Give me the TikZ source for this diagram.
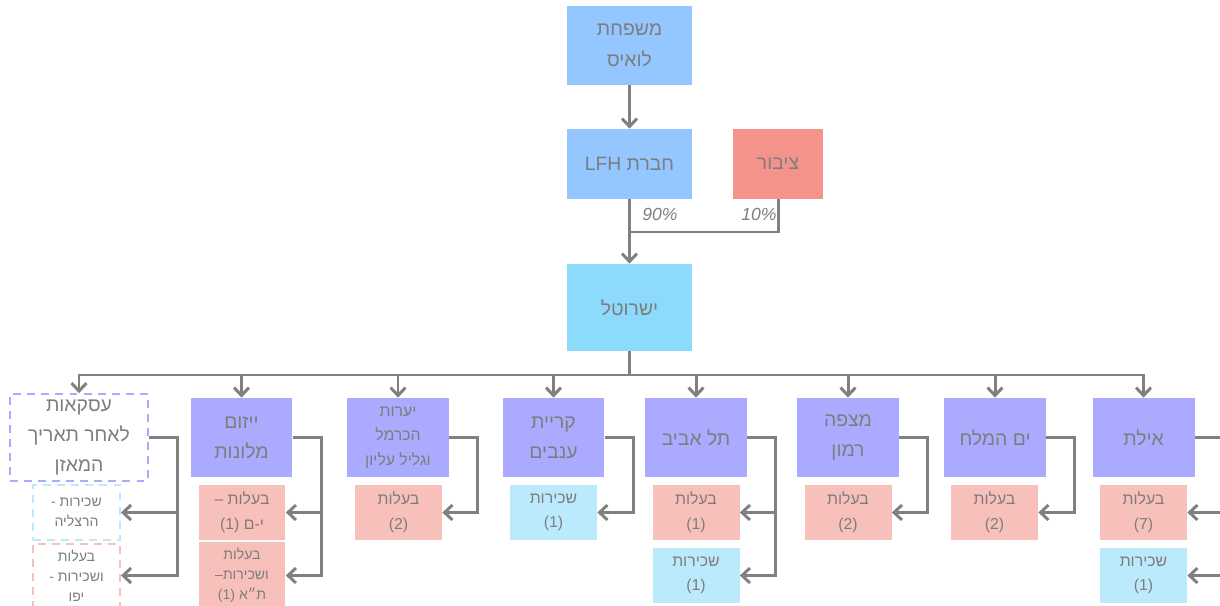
\documentclass[tikz,border=0pt]{standalone}
\usepackage{fontspec}
\setmainfont{Liberation Sans}
\newfontfamily\hebfont[Script=Hebrew]{Liberation Sans}
\usepackage{tikz}
\usepackage{xcolor}
\usetikzlibrary{arrows.meta}
\TeXXeTstate=1
\newcommand{\rtl}[1]{{\hebfont\beginR #1\endR}}
\newcommand{\heb}[1]{{\hebfont #1}}
\definecolor{topblue}{RGB}{148,198,255}
\definecolor{isrblue}{RGB}{140,219,252}
\definecolor{pubred}{RGB}{244,147,138}
\definecolor{hotelc}{RGB}{170,170,255}
\definecolor{ownc}{RGB}{248,192,186}
\definecolor{rentc}{RGB}{188,234,253}
\definecolor{txtc}{RGB}{125,125,125}
\definecolor{linec}{RGB}{128,128,128}

\begin{document}
\begin{tikzpicture}%
  [x=0.02cm,y=-0.02cm,
   link/.style={draw=linec,line width=1.7pt},
   arrow/.style={link,-{Straight Barb[length=4.5pt,width=8.5pt]}}]
  \tikzstyle{top node}=[rectangle,fill=topblue,text=txtc,minimum width=2.5cm,align=center,font=\fontsize{11}{18}\selectfont]
  \tikzstyle{hotel node}=[rectangle,fill=hotelc,text=txtc,minimum width=2.04cm,minimum height=1.58cm,align=center,font=\fontsize{11}{17}\selectfont]
  \tikzstyle{own node}=[rectangle,fill=ownc,text=txtc,minimum width=1.74cm,minimum height=1.1cm,align=center,font=\fontsize{9}{14}\selectfont]
  \tikzstyle{rent node}=[own node,fill=rentc]
  \tikzstyle{small}=[font=\fontsize{8}{11.5}\selectfont]
  \tikzstyle{dash box}=[fill=white,dashed,dash pattern=on 4.5pt off 3.5pt,line width=1.1pt]
  \tikzstyle{pct node}=[text=txtc,font=\itshape\fontsize{10}{12}\selectfont]
  \useasboundingbox (0,0) rectangle (1220,605);
  % owners
  \node(fam)[top node,minimum height=1.58cm] at (629.5,45.5) {\heb{משפחת}\\\heb{לואיס}};
  \node(lfh)[top node,minimum height=1.4cm] at (629.5,164) {\rtl{חברת LFH}};
  \node(pub)[top node,fill=pubred,minimum width=1.8cm,minimum height=1.4cm] at (778,164) {\heb{ציבור}};
  \node(isr)[top node,fill=isrblue,minimum height=1.74cm] at (629.5,307.5) {\heb{ישרוטל}};
  \node(p90)[pct node] at (660,214) {90\%};
  \node(p10)[pct node] at (759,214) {10\%};
  \coordinate(merge) at (629.5,232);
  \coordinate(bus) at (629.5,375);
  \draw[arrow] (fam) -- (lfh);
  \draw[arrow] (lfh) -- (isr);
  \draw[link] (pub) |- (merge);
  \draw[link] (isr) -- (bus);
  % hotels
  \node(deal)[hotel node,dash box,draw=hotelc,minimum width=2.76cm] at (79,437.5)
    {\heb{עסקאות}\\\rtl{לאחר תאריך}\\\heb{המאזן}};
  \node(yazam)[hotel node] at (241.5,437.5) {\heb{ייזום}\\\heb{מלונות}};
  \node(yaarot)[hotel node,font=\fontsize{9}{14}\selectfont] at (398,437.5)
    {\heb{יערות}\\\heb{הכרמל}\\\rtl{וגליל עליון}};
  \node(kiryat)[hotel node] at (553.5,437.5) {\heb{קריית}\\\heb{ענבים}};
  \node(telaviv)[hotel node] at (696,437.5) {\rtl{תל אביב}};
  \node(mitzpe)[hotel node] at (848,437.5) {\heb{מצפה}\\\heb{רמון}};
  \node(deadsea)[hotel node] at (995,437.5) {\rtl{ים המלח}};
  \node(eilat)[hotel node] at (1143.5,437.5) {\heb{אילת}};
  % holdings
  \node(dealrent)[rent node,small,dash box,draw=rentc] at (76.5,512.5) {- \heb{שכירות}\\\heb{הרצליה}};
  \node(dealown)[own node,small,dash box,draw=ownc] at (76.5,575.5) {\heb{בעלות}\\- \heb{ושכירות}\\\heb{יפו}};
  \node(yazamown)[own node] at (242,512.5) {– \heb{בעלות}\\(1) \heb{י-ם}};
  \node(yazammix)[own node,small] at (242,575.5) {\heb{בעלות}\\–\heb{ושכירות}\\(1) \heb{ת״א}};
  \node(yaarotown)[own node] at (398.5,512.5) {\heb{בעלות}\\(2)};
  \node(kiryatrent)[rent node] at (553.5,512.5) {\heb{שכירות}\\(1)};
  \node(telavivown)[own node] at (696,512.5) {\heb{בעלות}\\(1)};
  \node(telavivrent)[rent node] at (696,575.5) {\heb{שכירות}\\(1)};
  \node(mitzpeown)[own node] at (848,512.5) {\heb{בעלות}\\(2)};
  \node(deadseaown)[own node] at (994.5,512.5) {\heb{בעלות}\\(2)};
  \node(eilatown)[own node] at (1143.5,512.5) {\heb{בעלות}\\(7)};
  \node(eilatrent)[rent node] at (1143.5,575.5) {\heb{שכירות}\\(1)};
  \foreach \h in {deal,yazam,yaarot,kiryat,telaviv,mitzpe,deadsea,eilat}
    \draw[arrow] (bus) -| (\h);
  \foreach \h/\s in {deal/dealrent,deal/dealown,yazam/yazamown,yazam/yazammix,
      yaarot/yaarotown,kiryat/kiryatrent,telaviv/telavivown,telaviv/telavivrent,
      mitzpe/mitzpeown,deadsea/deadseaown,eilat/eilatown,eilat/eilatrent}
    \draw[arrow] (\h.east) -- ++(28.5,0) |- (\s.east);
\end{tikzpicture}
\end{document}
